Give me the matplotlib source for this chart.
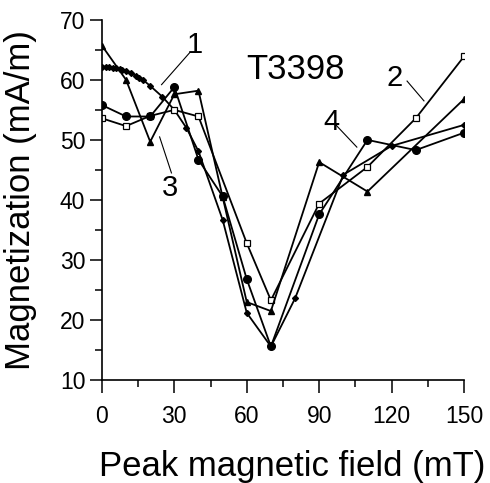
import numpy as np
import matplotlib.pyplot as plt
from matplotlib.ticker import MultipleLocator

plt.rcParams['font.family'] = ['Liberation Sans', 'DejaVu Sans']

# curve 1 - small diamonds (dense at low field)
x1 = [0, 1.5, 3, 4.5, 6, 7.5, 8.5, 10, 12, 14, 15.5, 17, 20, 25, 30, 35, 40, 50, 60, 70, 80, 100, 120, 150]
y1 = [62.2, 62.2, 62.1, 62.05, 61.9, 61.8, 61.7, 61.4, 61.1, 60.7, 60.3, 60.0, 59.0, 57.2, 55.0, 52.0, 48.1, 36.7, 21.2, 15.6, 23.6, 44.2, 49.0, 52.5]
# curve 2 - open squares
x2 = [0, 10, 20, 30, 40, 60, 70, 90, 110, 130, 150]
y2 = [53.6, 52.3, 54.0, 55.0, 53.9, 32.8, 23.3, 39.4, 45.5, 53.6, 63.9]
# curve 3 - triangles
x3 = [0, 10, 20, 30, 40, 50, 60, 70, 90, 110, 150]
y3 = [65.7, 60.0, 49.7, 57.6, 58.2, 40.5, 23.0, 21.5, 46.3, 41.4, 56.8]
# curve 4 - filled circles
x4 = [0, 10, 20, 30, 40, 50, 60, 70, 90, 110, 130, 150]
y4 = [55.8, 53.9, 53.9, 58.8, 46.7, 40.6, 26.8, 15.6, 37.6, 50.0, 48.3, 51.2]

fig = plt.figure(figsize=(4.9, 4.83), dpi=100)
ax = fig.add_axes([0.208, 0.213, 0.739, 0.746])

lw = 1.3
ax.plot(x1, y1, color='black', lw=lw, marker='D', ms=3, mfc='black', mec='black')
ax.plot(x2, y2, color='black', lw=lw, marker='s', ms=5, mfc='white', mec='black', mew=0.9)
ax.plot(x3, y3, color='black', lw=lw, marker='^', ms=5, mfc='black', mec='black')
ax.plot(x4, y4, color='black', lw=lw, marker='o', ms=5.5, mfc='black', mec='black')

ax.set_xlim(0, 150)
ax.set_ylim(10, 70)
ax.xaxis.set_major_locator(MultipleLocator(30))
ax.xaxis.set_minor_locator(MultipleLocator(15))
ax.yaxis.set_major_locator(MultipleLocator(10))
ax.yaxis.set_minor_locator(MultipleLocator(5))
ax.tick_params(which='major', direction='out', length=9, width=1.1, labelsize=16.5)
ax.tick_params(axis='x', which='major', pad=9)
ax.tick_params(axis='y', which='major', pad=3)
ax.tick_params(which='minor', direction='out', length=5, width=1.1)
ax.spines['top'].set_visible(False)
ax.spines['right'].set_visible(False)
for s in ['left', 'bottom']:
    ax.spines[s].set_linewidth(1.2)

ax.set_xlabel('Peak magnetic field (mT)', fontsize=25)
ax.set_ylabel('Magnetization (mA/m)', fontsize=25)
ax.xaxis.set_label_coords(0.525, -0.195)
ax.yaxis.set_label_coords(-0.18, 0.5)

ax.text(80, 61.7, 'T3398', fontsize=25, ha='center', va='center')

# curve labels with leader lines
labels = [('1', (38.4, 65.8), (36.3, 64.5), (24.7, 59.2)),
          ('2', (121.4, 60.3), (126.4, 59.8), (133.4, 56.5)),
          ('3', (28.0, 42.0), (23.9, 50.5), (28.8, 44.5)),
          ('4', (95.2, 53.0), (96.9, 52.5), (105.6, 48.8))]
for txt, pos, p0, p1 in labels:
    ax.text(pos[0], pos[1], txt, fontsize=21, ha='center', va='center')
    ax.plot([p0[0], p1[0]], [p0[1], p1[1]], color='black', lw=0.8)

fig.savefig('out.png', dpi=100)
